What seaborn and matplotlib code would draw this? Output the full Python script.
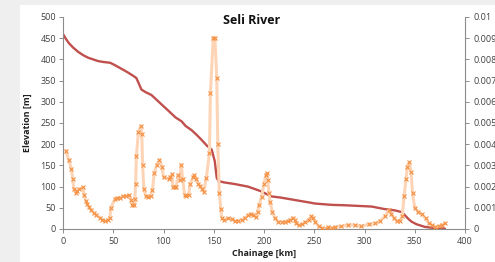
import numpy as np
import pandas as pd
import matplotlib
matplotlib.use("Agg")
import matplotlib.pyplot as plt
import seaborn as sns
from matplotlib.patches import Rectangle

# ---------------- data ----------------
elev_km = [0, 3, 6, 10, 15, 20, 25, 30, 35, 40, 47, 52, 58, 64, 70, 73, 76, 78, 82, 88,
           93, 98, 103, 108, 112, 118, 122, 128, 133, 138, 143, 148, 151, 153, 155, 160,
           171, 184, 197, 207, 217, 234, 244, 251, 267, 280, 307, 320, 330, 337, 340,
           344, 347, 352, 360, 370, 380]
elevation_m = [460, 448, 438, 428, 418, 410, 404, 400, 396, 394, 392, 386, 378, 370, 361,
               356, 340, 329, 323, 316, 305, 294, 283, 272, 263, 254, 243, 233, 222, 210,
               197, 187, 160, 120, 113, 110, 106, 100, 89, 77, 74, 67, 63, 60, 57, 56, 53,
               47, 44, 40, 33, 23, 17, 11, 5, 2, 1]

slope_km = [2.7, 5.7, 8.3, 9.7, 10.7, 12.7, 14, 15.7, 20, 21, 22.7, 24.3, 26, 28.3, 31,
            33.3, 36.7, 39.3, 42, 44.3, 46.7, 47.5, 51.7, 54, 56.7, 60, 63, 65.5, 67.7,
            69, 71, 71.5, 72.3, 73, 75, 77.4, 78.4, 79.2, 80.5, 82.4, 85, 87.4, 89, 90.7,
            93.4, 96, 98.4, 100, 105, 106.7, 108.4, 109.4, 111, 112.7, 114.4, 116, 117.7,
            119, 121, 122.7, 125, 126.7, 129.4, 130.7, 132.7, 134.4, 136.7, 138.4, 140,
            142.7, 145.7, 146.7, 149.5, 151.2, 153, 154, 155.5, 157, 158, 160.5, 164,
            167.7, 171, 174.3, 177.7, 181, 184.3, 187, 189.3, 191.7, 193.6, 195, 197.6,
            200, 201.7, 202.7, 203.7, 205, 206, 208.3, 211, 214.3, 217.7, 221, 223.6,
            226, 228.4, 230.4, 232, 234.4, 237.7, 241, 244.4, 247, 248.7, 251, 254.4,
            257.7, 262.7, 264, 267.7, 270.6, 277, 283.6, 290.5, 297, 304, 310.5, 315.5,
            320.5, 324, 326.3, 329, 332, 335.3, 337.6, 339.4, 341.3, 342.7, 344.6, 346.3,
            347.8, 350, 353.6, 357, 360.7, 364, 367.3, 370.6, 374, 377, 380]
slope = [0.00370, 0.00326, 0.00282, 0.00236, 0.00190, 0.00170, 0.00178, 0.00188, 0.00196,
         0.00160, 0.00132, 0.00116, 0.00102, 0.00088, 0.00076, 0.00064, 0.00054, 0.00044,
         0.00040, 0.00042, 0.00052, 0.00098, 0.00142, 0.00146, 0.00148, 0.00154, 0.00158,
         0.00160, 0.00136, 0.00112, 0.00112, 0.00140, 0.00214, 0.00342, 0.00456, 0.00486,
         0.00448, 0.00302, 0.00188, 0.00156, 0.00150, 0.00156, 0.00184, 0.00262, 0.00304,
         0.00326, 0.00294, 0.00244, 0.00236, 0.00246, 0.00258, 0.00200, 0.00196, 0.00200,
         0.00254, 0.00230, 0.00304, 0.00238, 0.00160, 0.00156, 0.00162, 0.00214, 0.00246,
         0.00254, 0.00238, 0.00214, 0.00202, 0.00188, 0.00176, 0.00242, 0.00358, 0.00642,
         0.00902, 0.00900, 0.00712, 0.00400, 0.00172, 0.00094, 0.00052, 0.00042, 0.00050,
         0.00048, 0.00036, 0.00040, 0.00042, 0.00054, 0.00064, 0.00072, 0.00064, 0.00056,
         0.00080, 0.00112, 0.00152, 0.00214, 0.00254, 0.00262, 0.00230, 0.00168, 0.00128,
         0.00080, 0.00050, 0.00034, 0.00032, 0.00034, 0.00036, 0.00044, 0.00054, 0.00044,
         0.00026, 0.00018, 0.00022, 0.00032, 0.00044, 0.00060, 0.00054, 0.00034, 0.00012,
         0.00004, 0.00002, 0.00010, 0.00004, 0.00010, 0.00012, 0.00020, 0.00018, 0.00014,
         0.00022, 0.00026, 0.00038, 0.00060, 0.00088, 0.00072, 0.00054, 0.00038, 0.00040,
         0.00060, 0.00154, 0.00234, 0.00294, 0.00314, 0.00270, 0.00170, 0.00100, 0.00080,
         0.00070, 0.00050, 0.00028, 0.00018, 0.00010, 0.00012, 0.00020, 0.00026]

x_ticks = [0, 50, 100, 150, 200, 250, 300, 350, 400]
left_ticks = [0, 50, 100, 150, 200, 250, 300, 350, 400, 450, 500]
right_ticks = [0, 0.001, 0.002, 0.003, 0.004, 0.005, 0.006, 0.007, 0.008, 0.009, 0.01]
right_labels = ["0", "0.001", "0.002", "0.003", "0.004", "0.005", "0.006", "0.007",
                "0.008", "0.009", "0.01"]

df_elev = pd.DataFrame({"km": elev_km, "elev": elevation_m})
df_slope = pd.DataFrame({"km": slope_km, "slope": slope})

# ---------------- style ----------------
sns.set_style("white")
plt.rcParams['font.family'] = ['Open Sans', 'DejaVu Sans']

W, H = 495, 262
fig = plt.figure(figsize=(W / 100, H / 100), dpi=100)
fig.patch.set_facecolor("#efefef")
fig.add_artist(Rectangle((20 / W, 0), 1, 1 - 5 / H, transform=fig.transFigure,
                         facecolor="white", edgecolor="none", zorder=0))

ax = fig.add_axes([63 / W, 1 - 229 / H, (465 - 63) / W, (229 - 17) / H])
ax.set_facecolor("none")
ax2 = ax.twinx()

red = "#c0504d"
sns.lineplot(data=df_elev, x="km", y="elev", ax=ax, color=red, linewidth=1.7,
             estimator=None, sort=False)

sns.lineplot(data=df_slope, x="km", y="slope", ax=ax2, color="#fdd5b6", linewidth=2.2,
             estimator=None, sort=False, marker="x", markersize=3.0,
             markeredgecolor="#f59042", markeredgewidth=0.8)

ax.set_xlim(0, 400)
ax.set_ylim(0, 500)
ax2.set_ylim(0, 0.01)
ax.set_xticks(x_ticks)
ax.set_xticklabels([str(t) for t in x_ticks])
ax.set_yticks(left_ticks)
ax.set_yticklabels([str(t) for t in left_ticks])
ax2.set_yticks(right_ticks)
ax2.set_yticklabels(right_labels)

spine_col = "#8c8c8c"
for a in (ax, ax2):
    a.spines["top"].set_visible(False)
    for s in ("left", "right", "bottom"):
        a.spines[s].set_color(spine_col)
        a.spines[s].set_linewidth(0.8)
ax.spines["right"].set_visible(False)
ax2.spines["left"].set_visible(False)
ax2.spines["bottom"].set_visible(False)

ax.tick_params(axis="both", direction="out", length=3, width=0.7, color=spine_col,
               labelsize=6.5, labelcolor="#404040", pad=2)
ax.tick_params(axis="x", bottom=True, pad=3)
ax.tick_params(axis="y", left=True)
ax2.tick_params(axis="y", direction="out", length=3, width=0.7, color=spine_col,
                labelsize=6.5, labelcolor="#404040", pad=3, right=True)

ax.set_xlabel("Chainage [km]", fontsize=6.5, fontweight="bold", labelpad=2, color="#202020")
ax.set_ylabel("Elevation [m]", fontsize=6.5, fontweight="bold", labelpad=6, color="#202020")
ax2.set_ylabel("")

fig.text(252 / W, 1 - 21 / H, "Seli River", ha="center", va="center",
         fontsize=9, fontweight="bold", color="#111111")

fig.savefig("out.png", dpi=100)
